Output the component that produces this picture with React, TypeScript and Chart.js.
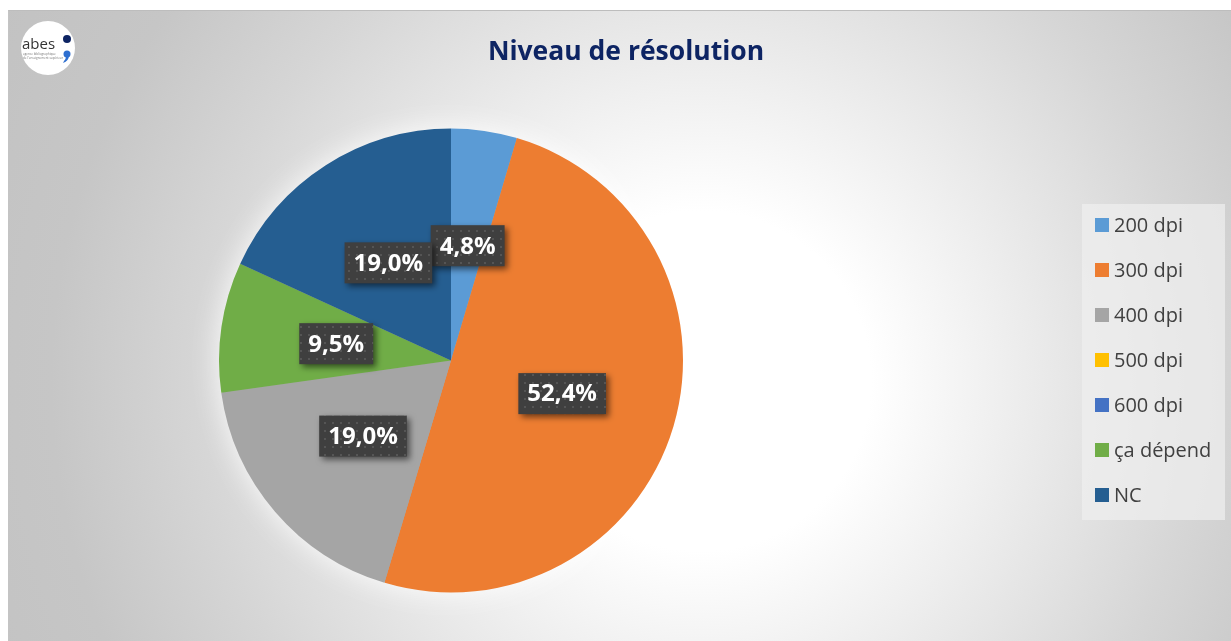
import React, { useEffect, useRef } from "react";
import { Chart, registerables } from "chart.js";

Chart.register(...registerables);

const categories = ["200 dpi", "300 dpi", "400 dpi", "500 dpi", "600 dpi", "ça dépend", "NC"];
const percents = [4.8, 52.4, 19.0, 0, 0, 9.5, 19.0];
const colors = ["#5B9BD5", "#ED7D31", "#A5A5A5", "#FFC000", "#4472C4", "#70AD47", "#255E91"];
const titleText = "Niveau de résolution";

const FONT = "'Open Sans', 'DejaVu Sans', sans-serif";

function makePattern(ctx: CanvasRenderingContext2D) {
  const c = document.createElement("canvas");
  c.width = 8;
  c.height = 8;
  const p = c.getContext("2d")!;
  p.fillStyle = "#3f3f3f";
  p.fillRect(0, 0, 8, 8);
  p.fillStyle = "#555555";
  p.fillRect(3, 3, 2, 2);
  return ctx.createPattern(c, "repeat");
}

const glowPlugin = {
  id: "glow",
  beforeDatasetsDraw(chart: any) {
    const meta = chart.getDatasetMeta(0);
    const arc = meta.data[0];
    if (!arc) return;
    const { x, y, outerRadius } = arc.getProps(["x", "y", "outerRadius"], true);
    const ctx = chart.ctx;
    ctx.save();
    ctx.shadowColor = "rgba(255,255,255,0.95)";
    ctx.shadowBlur = 30;
    ctx.fillStyle = "#aaaaaa";
    ctx.beginPath();
    ctx.arc(x, y, outerRadius - 1, 0, Math.PI * 2);
    ctx.fill();
    ctx.restore();
  },
};

const decorPlugin = {
  id: "decor",
  afterDraw(chart: any) {
    const ctx: CanvasRenderingContext2D = chart.ctx;
    const meta = chart.getDatasetMeta(0);
    const pattern = makePattern(ctx);

    // data labels
    meta.data.forEach((arc: any, i: number) => {
      if (!percents[i]) return;
      const pos = arc.tooltipPosition(true);
      const txt = percents[i].toFixed(1).replace(".", ",") + "%";
      ctx.save();
      ctx.font = `bold 24px ${FONT}`;
      const w = ctx.measureText(txt).width + 18;
      const h = 41;
      const bx = pos.x - w / 2;
      const by = pos.y - h / 2;
      ctx.shadowColor = "rgba(0,0,0,0.55)";
      ctx.shadowBlur = 6;
      ctx.shadowOffsetX = 3;
      ctx.shadowOffsetY = 3;
      ctx.fillStyle = pattern || "#404040";
      ctx.fillRect(bx, by, w, h);
      ctx.shadowColor = "transparent";
      ctx.fillStyle = "#ffffff";
      ctx.textAlign = "center";
      ctx.textBaseline = "middle";
      ctx.fillText(txt, pos.x, pos.y + 1);
      ctx.restore();
    });

    // title
    ctx.save();
    ctx.font = `bold 26.5px ${FONT}`;
    ctx.fillStyle = "#0D2463";
    ctx.textAlign = "center";
    ctx.textBaseline = "middle";
    ctx.fillText(titleText, 617, 41);
    ctx.restore();

    // legend
    const lx = 1073;
    const ly = 193;
    ctx.save();
    ctx.fillStyle = "rgba(240,240,240,0.7)";
    ctx.fillRect(lx, ly, 143, 316);
    ctx.font = `20px ${FONT}`;
    ctx.textBaseline = "middle";
    ctx.textAlign = "left";
    categories.forEach((c, i) => {
      const cy = ly + 21 + i * 45;
      ctx.fillStyle = colors[i];
      ctx.fillRect(lx + 13, cy - 7, 14, 14);
      ctx.fillStyle = "#404040";
      ctx.fillText(c, lx + 32, cy + 1);
    });
    ctx.restore();

    // logo
    ctx.save();
    ctx.fillStyle = "#ffffff";
    ctx.beginPath();
    ctx.arc(39, 37, 27, 0, Math.PI * 2);
    ctx.fill();
    ctx.fillStyle = "#333333";
    ctx.font = `15px ${FONT}`;
    ctx.textBaseline = "alphabetic";
    ctx.textAlign = "left";
    ctx.fillText("abes", 13, 38);
    ctx.font = `3px ${FONT}`;
    ctx.fillStyle = "#777777";
    ctx.fillText("agence bibliographique", 14, 44);
    ctx.fillText("de l'enseignement supérieur", 14, 48);
    ctx.fillStyle = "#0D2463";
    ctx.beginPath();
    ctx.arc(58, 28, 4, 0, Math.PI * 2);
    ctx.fill();
    ctx.fillStyle = "#2E6FD0";
    ctx.beginPath();
    ctx.arc(58, 43, 3.5, 0, Math.PI * 2);
    ctx.fill();
    ctx.beginPath();
    ctx.moveTo(60, 44);
    ctx.quadraticCurveTo(60, 50, 54, 52);
    ctx.lineTo(55, 50);
    ctx.quadraticCurveTo(57, 48, 57, 45);
    ctx.fill();
    ctx.restore();
  },
};

export default function App() {
  const ref = useRef<HTMLCanvasElement | null>(null);

  useEffect(() => {
    document.body.style.overflow = "hidden";
    if (!ref.current) return;
    const chart = new Chart(ref.current, {
      type: "pie",
      data: {
        labels: categories,
        datasets: [
          {
            data: percents,
            backgroundColor: colors,
            borderWidth: 0,
          },
        ],
      },
      options: {
        animation: false,
        responsive: true,
        maintainAspectRatio: false,
        layout: { padding: { left: 210, right: 548, top: 117, bottom: 48 } },
        plugins: {
          legend: { display: false },
          tooltip: { enabled: false },
          title: { display: false },
        },
      },
      plugins: [glowPlugin, decorPlugin],
    });
    return () => chart.destroy();
  }, []);

  return (
    <div
      style={{
        position: "fixed",
        left: 8,
        top: 10,
        right: 0,
        bottom: 0,
        borderTop: "1px solid #bdbdbd",
        borderLeft: "1px solid #c4c4c4",
        background:
          "radial-gradient(circle at 692px 370px, #ffffff 0px, #ffffff 170px, #eaeaea 340px, #d6d6d6 500px, #c6c6c6 650px, #c2c2c2 800px)",
      }}
    >
      <canvas ref={ref} />
    </div>
  );
}
